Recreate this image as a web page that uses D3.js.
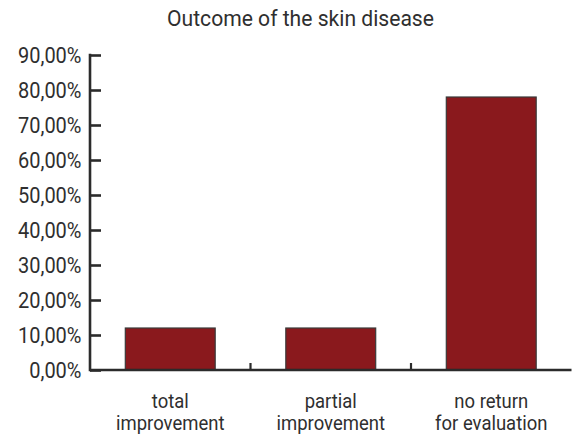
<!DOCTYPE html>
<html>
<head>
<meta charset="utf-8">
<script src="https://cdn.jsdelivr.net/npm/d3@7"></script>
<style>
  html, body { margin: 0; padding: 0; background: #fff; }
  svg text { font-family: "Roboto", "Liberation Sans", sans-serif; fill: #2f2f2f; }
</style>
</head>
<body>
<svg id="chart" width="572" height="440"></svg>
<script>
// Outcome shares (percent) for each group
const categories = [["total", "improvement"], ["partial", "improvement"], ["no return", "for evaluation"]];
const values = [12, 12, 78];
const yTicks = [0, 10, 20, 30, 40, 50, 60, 70, 80, 90];
const title = "Outcome of the skin disease";

const svg = d3.select("#chart");
const plotLeft = 90, plotRight = 571.5, plotTop = 55, plotBottom = 370;

const x = d3.scaleBand()
  .domain(categories.map((d, i) => i))
  .range([plotLeft, plotRight])
  .paddingInner(0.44)
  .paddingOuter(0.22);

const y = d3.scaleLinear().domain([0, 90]).range([plotBottom, plotTop]);

// Title (narrowed a little to get a condensed face)
svg.append("text")
  .attr("transform", "translate(300.5,25.5) scale(0.96,1)")
  .attr("text-anchor", "middle")
  .style("font-size", "22px")
  .text(title);

// Bars
svg.append("g").selectAll("rect")
  .data(values)
  .join("rect")
  .attr("x", (d, i) => x(i))
  .attr("y", d => y(d))
  .attr("width", x.bandwidth())
  .attr("height", d => y(0) - y(d))
  .attr("fill", "#8a191d")
  .attr("stroke", "#3a3a3a")
  .attr("stroke-width", 1.2);

// Y axis with inward ticks
const yAxis = d3.axisRight(y)
  .tickValues(yTicks)
  .tickSize(11)
  .tickFormat(d => d3.format(".2f")(d).replace(".", ",") + "%");
const gy = svg.append("g").attr("transform", `translate(${plotLeft},0)`).call(yAxis);
gy.select(".domain").remove();
gy.selectAll(".tick line").attr("stroke", "#2b2b2b").attr("stroke-width", 2.6);
gy.selectAll(".tick text")
  .attr("x", null)
  .attr("transform", "translate(-8.5,0) scale(0.93,1)")
  .attr("dy", "0.35em")
  .attr("text-anchor", "end")
  .style("font-size", "21.5px");
gy.append("line")
  .attr("x1", 0).attr("x2", 0)
  .attr("y1", y(90) - 1.3).attr("y2", y(0) + 1.3)
  .attr("stroke", "#2b2b2b").attr("stroke-width", 2.6);

// X axis with boundary ticks between categories
const step = x.step();
const boundaries = categories.slice(1).map((d, i) => x(i + 1) - x.paddingInner() * step / 2);
const gx = svg.append("g");
gx.append("line")
  .attr("x1", plotLeft).attr("x2", plotRight)
  .attr("y1", plotBottom).attr("y2", plotBottom)
  .attr("stroke", "#2b2b2b").attr("stroke-width", 2.6);
gx.selectAll("line.tk")
  .data(boundaries)
  .join("line")
  .attr("class", "tk")
  .attr("x1", d => d).attr("x2", d => d)
  .attr("y1", plotBottom).attr("y2", plotBottom - 7)
  .attr("stroke", "#2b2b2b").attr("stroke-width", 2.2);

// Category labels (two lines each, condensed)
const lbl = gx.selectAll("text.cat")
  .data(categories)
  .join("text")
  .attr("class", "cat")
  .attr("text-anchor", "middle")
  .style("font-size", "21px")
  .attr("transform", (d, i) => `translate(${x(i) + x.bandwidth() / 2},0) scale(0.88,1)`);
lbl.selectAll("tspan")
  .data(d => d)
  .join("tspan")
  .attr("x", 0)
  .attr("y", (d, j) => 408 + j * 22)
  .text(d => d);
</script>
</body>
</html>
